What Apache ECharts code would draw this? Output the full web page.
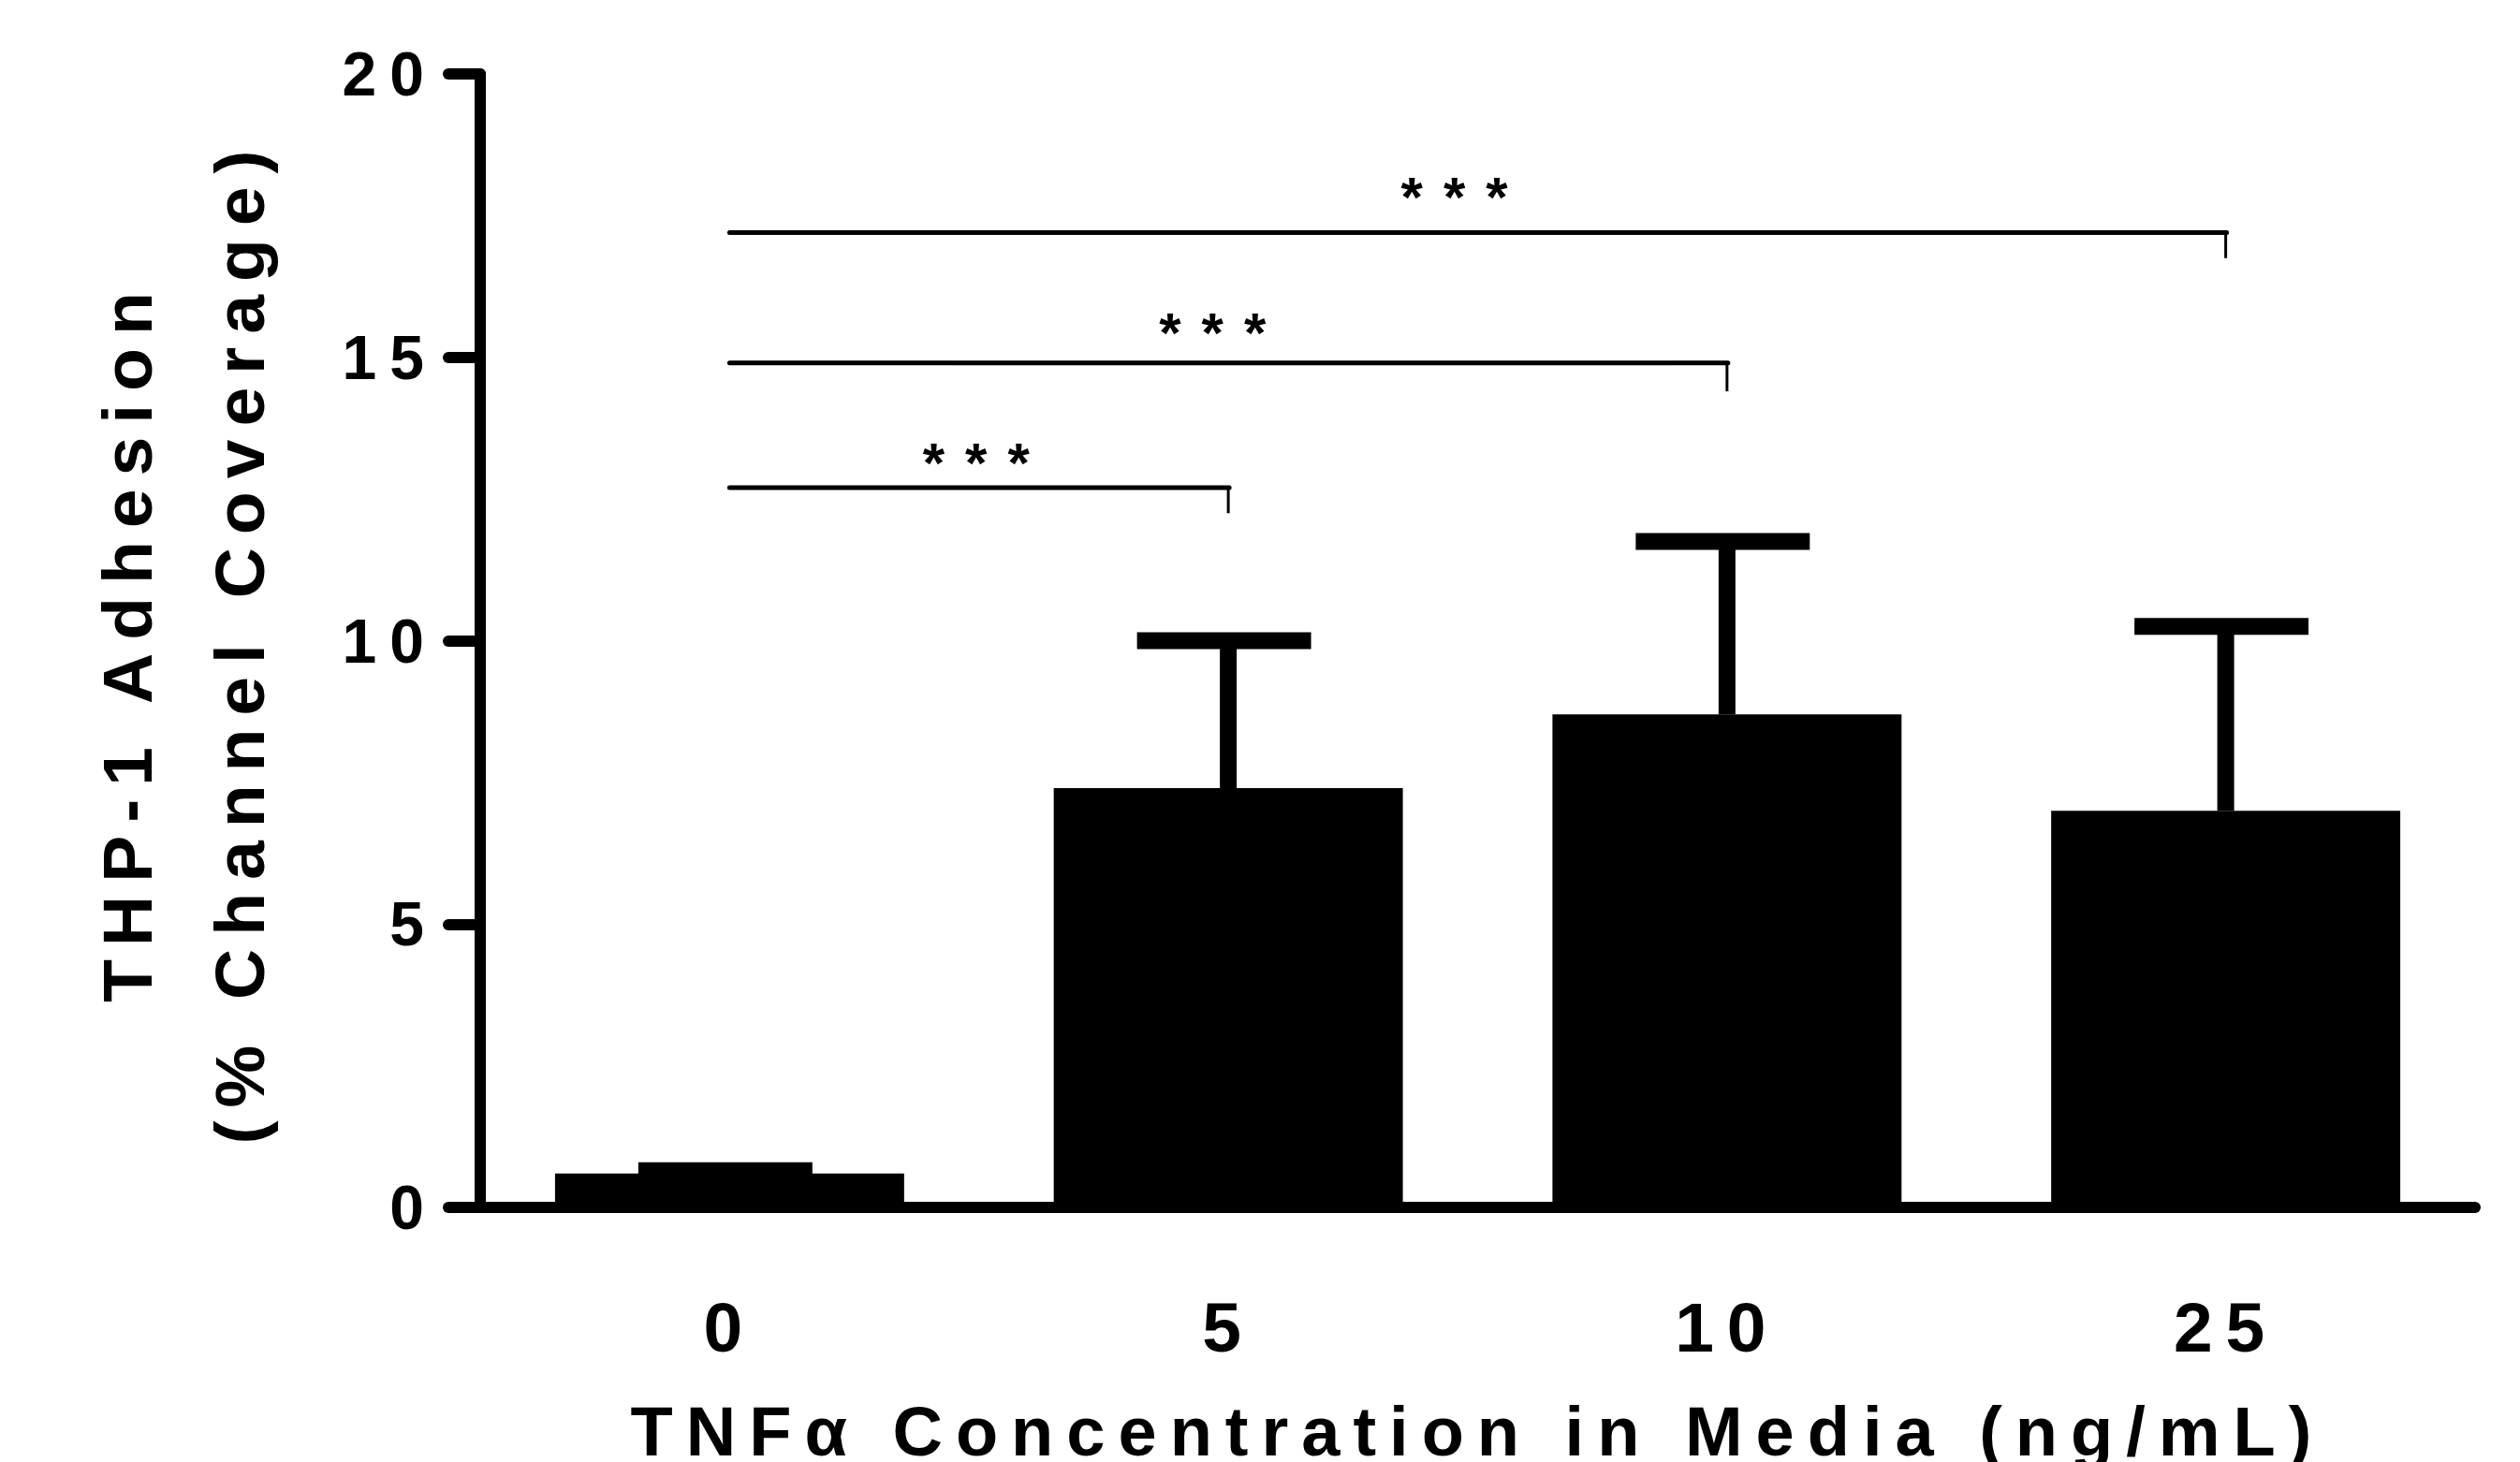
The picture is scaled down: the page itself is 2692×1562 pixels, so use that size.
<!DOCTYPE html>
<html>
<head>
<meta charset="utf-8">
<title>THP-1 Adhesion</title>
<script src="https://cdn.jsdelivr.net/npm/echarts@6/dist/echarts.min.js"></script>
<style>
html, body { margin: 0; padding: 0; background: #fff; }
#chart { width: 2692px; height: 1562px; }
/* wide tracking like the original figure (svg renderer picks this up) */
#chart svg text { letter-spacing: 14px; }
#chart svg text[style*="60px"] { letter-spacing: 22px; }
</style>
</head>
<body>
<div id="chart"></div>
<script>
// data
var categories = ['0', '5', '10', '25'];
var means = [0.6, 7.4, 8.7, 7.0];
var sds = [0.05, 2.6, 3.05, 3.25];
var yMin = 0, yMax = 20, yStep = 5;

// significance brackets (0 vs 5, 0 vs 10, 0 vs 25)
var bracketFrom = [0, 0, 0];
var bracketTo = [1, 2, 3];
var bracketLevel = [12.7, 14.9, 17.2];
var bracketDrop = [12.25, 14.4, 16.75];
var starLevel = [13.13, 15.43, 17.82];
var starPos = [0.515, 0.989, 1.474];   // in category units
var starText = ['***', '***', '***'];

var FONT = "'Liberation Sans', Arial, Helvetica, sans-serif";

var errData = [];
for (var i = 0; i < categories.length; i++) {
    errData.push([i, means[i], sds[i]]);
}
var bracketData = [];
for (var j = 0; j < bracketFrom.length; j++) {
    bracketData.push([bracketFrom[j], bracketTo[j], bracketLevel[j], bracketDrop[j], starLevel[j], starPos[j]]);
}

var chart = echarts.init(document.getElementById('chart'), null, {renderer: 'svg'});

var option = {
    backgroundColor: '#fff',
    animation: false,
    grid: {left: 513, right: 48, top: 79, bottom: 272, containLabel: false, outerBoundsMode: 'none'},
    xAxis: {
        type: 'category',
        data: categories,
        boundaryGap: true,
        axisLine: {lineStyle: {color: '#000', width: 12}},
        axisTick: {alignWithLabel: true, length: 33, lineStyle: {color: '#000', width: 12, cap: 'round'}},
        axisLabel: {margin: 90, fontSize: 75, fontWeight: 'bold', fontFamily: FONT, color: '#000'},
        name: 'TNFα Concentration in Media (ng/mL)',
        nameLocation: 'middle',
        nameGap: 202,
        nameTextStyle: {fontSize: 74, fontWeight: 'bold', fontFamily: FONT, color: '#000'}
    },
    yAxis: {
        type: 'value',
        min: yMin,
        max: yMax,
        interval: yStep,
        splitLine: {show: false},
        axisLine: {show: true, lineStyle: {color: '#000', width: 12, cap: 'round'}},
        axisTick: {show: true, length: 34, lineStyle: {color: '#000', width: 12, cap: 'round'}},
        axisLabel: {margin: 46, fontSize: 66, fontWeight: 'bold', fontFamily: FONT, color: '#000'},
        name: 'THP-1 Adhesion\n(% Channel Coverage)',
        nameLocation: 'middle',
        nameGap: 197,
        nameTextStyle: {fontSize: 75, fontWeight: 'bold', fontFamily: FONT, color: '#000', lineHeight: 120}
    },
    series: [
        {
            type: 'bar',
            data: means,
            barWidth: '70%',
            itemStyle: {color: '#000'},
            z: 2
        },
        {
            // upper SD whiskers
            type: 'custom',
            data: errData,
            encode: {x: 0, y: 1},
            z: 3,
            renderItem: function (params, api) {
                var idx = api.value(0);
                var base = api.coord([idx, api.value(1)]);
                var top = api.coord([idx, api.value(1) + api.value(2)]);
                var band = api.size([1, 0])[0];
                return {
                    type: 'group',
                    children: [
                        {type: 'line', shape: {x1: base[0], y1: base[1], x2: top[0], y2: top[1]},
                            style: {stroke: '#000', lineWidth: 18}},
                        {type: 'line', shape: {x1: top[0] - band * 0.183, y1: top[1], x2: top[0] + band * 0.166, y2: top[1]},
                            style: {stroke: '#000', lineWidth: 18}}
                    ]
                };
            }
        },
        {
            // significance brackets with stars
            type: 'custom',
            data: bracketData,
            encode: {x: 0, y: 2},
            z: 3,
            renderItem: function (params, api) {
                var a = api.coord([api.value(0), api.value(2)]);
                var b = api.coord([api.value(1), api.value(2)]);
                var d = api.coord([api.value(1), api.value(3)]);
                var c0 = api.coord([0, api.value(4)]);
                var c1 = api.coord([1, api.value(4)]);
                var sx = c0[0] + api.value(5) * (c1[0] - c0[0]);
                return {
                    type: 'group',
                    children: [
                        {type: 'line', shape: {x1: a[0], y1: a[1], x2: b[0] + 1, y2: b[1]},
                            style: {stroke: '#000', lineWidth: 5, lineCap: 'round'}},
                        {type: 'line', shape: {x1: b[0], y1: b[1], x2: d[0], y2: d[1]},
                            style: {stroke: '#000', lineWidth: 3}},
                        {type: 'text', x: sx, y: c0[1],
                            style: {text: starText[params.dataIndex], fill: '#000', fontSize: 60,
                                fontWeight: 'bold', fontFamily: FONT, align: 'center', verticalAlign: 'middle'}}
                    ]
                };
            }
        }
    ]
};

chart.setOption(option);
</script>
</body>
</html>
